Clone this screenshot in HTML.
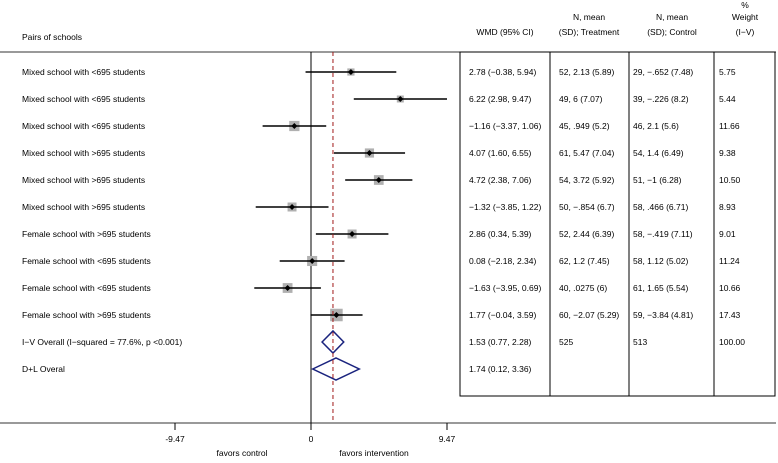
<!DOCTYPE html>
<html><head><meta charset="utf-8"><style>
html,body{margin:0;padding:0;background:#fff}
svg text{font-family:"Liberation Sans",Arial,sans-serif;font-size:8.5px;fill:#000}
</style></head><body>
<svg id="c" width="778" height="458" viewBox="0 0 778 458" xmlns="http://www.w3.org/2000/svg">
<g id="g"></g>
</svg>
<script>
const labels=["Mixed school with <695 students","Mixed school with <695 students","Mixed school with <695 students","Mixed school with >695 students","Mixed school with >695 students","Mixed school with >695 students","Female school with >695 students","Female school with <695 students","Female school with <695 students","Female school with >695 students"];
const wmd=[2.78,6.22,-1.16,4.07,4.72,-1.32,2.86,0.08,-1.63,1.77];
const lo=[-0.38,2.98,-3.37,1.60,2.38,-3.85,0.34,-2.18,-3.95,-0.04];
const hi=[5.94,9.47,1.06,6.55,7.06,1.22,5.39,2.34,0.69,3.59];
const weight=[5.75,5.44,11.66,9.38,10.50,8.93,9.01,11.24,10.66,17.43];
const wmdText=["2.78 (−0.38, 5.94)","6.22 (2.98, 9.47)","−1.16 (−3.37, 1.06)","4.07 (1.60, 6.55)","4.72 (2.38, 7.06)","−1.32 (−3.85, 1.22)","2.86 (0.34, 5.39)","0.08 (−2.18, 2.34)","−1.63 (−3.95, 0.69)","1.77 (−0.04, 3.59)"];
const treatText=["52, 2.13 (5.89)","49, 6 (7.07)","45, .949 (5.2)","61, 5.47 (7.04)","54, 3.72 (5.92)","50, −.854 (6.7)","52, 2.44 (6.39)","62, 1.2 (7.45)","40, .0275 (6)","60, −2.07 (5.29)"];
const ctrlText=["29, −.652 (7.48)","39, −.226 (8.2)","46, 2.1 (5.6)","54, 1.4 (6.49)","51, −1 (6.28)","58, .466 (6.71)","58, −.419 (7.11)","58, 1.12 (5.02)","61, 1.65 (5.54)","59, −3.84 (4.81)"];
const pooledLabels=["I−V Overall  (I−squared = 77.6%, p <0.001)","D+L Overal"];
const pooledEst=[1.53,1.74];
const pooledLo=[0.77,0.12];
const pooledHi=[2.28,3.36];
const pooledWmdText=["1.53 (0.77, 2.28)","1.74 (0.12, 3.36)"];
const pooledTreat=["525",""];
const pooledCtrl=["513",""];
const pooledWeight=["100.00",""];
const ticks=[-9.47,0,9.47];
const tickLabels=["-9.47","0","9.47"];

const NS="http://www.w3.org/2000/svg";
const g=document.getElementById('g');
const X=v=>311+v*14.36;
const Y=i=>72+i*27;
function el(t,a,p){const e=document.createElementNS(NS,t);for(const k in a)e.setAttribute(k,a[k]);(p||g).appendChild(e);return e;}
function txt(x,y,s,anchor){const e=el('text',{x:x,y:y,'text-anchor':anchor||'start'});e.textContent=s;return e;}

let e;
e=el('line',{x1:0,y1:52,x2:776,y2:52,stroke:'#333','stroke-width':1});

e=el('line',{x1:0,y1:423,x2:776,y2:423,stroke:'#333','stroke-width':1});

e=el('line',{x1:X(0),y1:52,x2:X(0),y2:423,stroke:'#000','stroke-width':1});

e=el('rect',{x:460,y:52,width:315,height:344,fill:'none',stroke:'#000','stroke-width':1});

[550,629,714].forEach(x=>{const l=el('line',{x1:x,y1:52,x2:x,y2:396,stroke:'#000','stroke-width':1});
});

e=txt(22,40,"Pairs of schools");
e=txt(505,35,"WMD (95% CI)",'middle');
e=txt(589,20,"N, mean",'middle');
e=txt(589,35,"(SD); Treatment",'middle');
e=txt(672,20,"N, mean",'middle');
e=txt(672,35,"(SD); Control",'middle');
e=txt(745,8,"%",'middle');
e=txt(745,20,"Weight",'middle');
e=txt(745,35,"(I−V)",'middle');

labels.forEach((lab,i)=>{
  const y=Y(i);
  let t=txt(22,y+3,lab);
  const s=3.0*Math.sqrt(weight[i]);
  let r=el('rect',{x:X(wmd[i])-s/2,y:y-s/2,width:s,height:s,fill:'#b0b0b0'});
  
  let l=el('line',{x1:X(lo[i]),y1:y,x2:X(hi[i]),y2:y,stroke:'#000','stroke-width':1.5});
  
  let d=el('path',{d:`M${X(wmd[i])-3},${y} L${X(wmd[i])},${y-3} L${X(wmd[i])+3},${y} L${X(wmd[i])},${y+3} Z`,fill:'#000'});
  
  t=txt(469,y+3,wmdText[i]);
  t=txt(559,y+3,treatText[i]);
  t=txt(633,y+3,ctrlText[i]);
  t=txt(719,y+3,weight[i].toFixed(2));
});

pooledLabels.forEach((lab,j)=>{
  const y=Y(10+j);
  let t=txt(22,y+3,lab);
  let d=el('path',{d:`M${X(pooledLo[j])},${y} L${X(pooledEst[j])},${y-11} L${X(pooledHi[j])},${y} L${X(pooledEst[j])},${y+11} Z`,fill:'none',stroke:'#1a237e','stroke-width':1.5});
  
  t=txt(469,y+3,pooledWmdText[j]);
  t=txt(559,y+3,pooledTreat[j]);
  t=txt(633,y+3,pooledCtrl[j]);
  t=txt(719,y+3,pooledWeight[j]);
});

e=el('line',{x1:X(pooledEst[0]),y1:52,x2:X(pooledEst[0]),y2:423,stroke:'#a01818','stroke-width':1,'stroke-dasharray':'4,3'});


ticks.forEach((v,i)=>{
  let l=el('line',{x1:X(v),y1:423,x2:X(v),y2:430,stroke:'#000','stroke-width':1});
  
  let t=txt(X(v),442,tickLabels[i],'middle');
});
e=txt(242,456,"favors control",'middle');
e=txt(374,456,"favors intervention",'middle');
</script>
</body></html>
